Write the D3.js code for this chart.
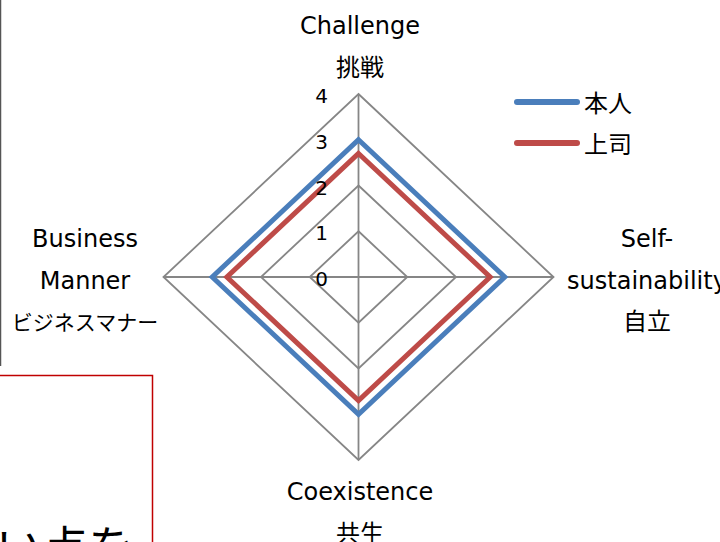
<!DOCTYPE html>
<html>
<head>
<meta charset="utf-8">
<title>radar</title>
<script src="https://d3js.org/d3.v7.min.js"></script>
<style>
  body { margin: 0; background: #fff; }
  svg { display: block; font-family: "DejaVu Sans", "Noto Sans CJK JP", sans-serif; }
</style>
</head>
<body>
<svg id="chart" width="720" height="542"></svg>
<script>
// axes clockwise from the top
const axes = ["Challenge", "Self-sustainability", "Coexistence", "Business Manner"];
const axisLabels = [
  ["Challenge", "挑戦"],
  ["Self-", "sustainability", "自立"],
  ["Coexistence", "共生"],
  ["Business", "Manner", "ビジネスマナー"]
];
const ticks = [0, 1, 2, 3, 4];
const seriesNames = ["本人", "上司"];
const selfScores = [3.0, 3.0, 3.0, 3.0];
const bossScores = [2.7, 2.7, 2.7, 2.7];
const colors = ["#4a7ebb", "#be4b48"];

const svg = d3.select("#chart");
const cx = 358.5, cy = 277;

// the plot is a little wider than tall
const rx = d3.scaleLinear().domain([0, 4]).range([0, 195]);
const ry = d3.scaleLinear().domain([0, 4]).range([0, 183]);
const ang = i => i * 2 * Math.PI / axes.length;

function pt(i, v) {
  return [cx + Math.sin(ang(i)) * rx(v), cy - Math.cos(ang(i)) * ry(v)];
}

// left page bits behind the chart
svg.append("line").attr("x1", 0.5).attr("y1", 0).attr("x2", 0.5).attr("y2", 366)
  .attr("stroke", "#555").attr("stroke-width", 1.5);
svg.append("path").attr("d", "M0,375.5 H152.5 V542")
  .attr("fill", "none").attr("stroke", "#c00000").attr("stroke-width", 1.5);
svg.append("text").attr("x", -4).attr("y", 564)
  .attr("font-size", 46).attr("font-family", "Noto Sans CJK JP")
  .text("い点を");

// grid rings
const line = d3.line();
ticks.filter(t => t > 0).forEach(t => {
  const pts = axes.map((a, i) => pt(i, t));
  svg.append("path").attr("d", line(pts) + "Z")
    .attr("fill", "none").attr("stroke", "#868686").attr("stroke-width", 1.8);
});

// spokes
axes.forEach((a, i) => {
  const p = pt(i, 4);
  svg.append("line").attr("x1", cx).attr("y1", cy).attr("x2", p[0]).attr("y2", p[1])
    .attr("stroke", "#868686").attr("stroke-width", 1.8);
});

// series
[selfScores, bossScores].forEach((vals, s) => {
  const pts = vals.map((v, i) => pt(i, v));
  svg.append("path").attr("d", line(pts) + "Z")
    .attr("fill", "none").attr("stroke", colors[s]).attr("stroke-width", 5)
    .attr("stroke-linejoin", "miter");
});

// tick labels
svg.selectAll(".tick").data(ticks).enter().append("text")
  .attr("x", 328).attr("y", d => cy - ry(d) + 9)
  .attr("text-anchor", "end").attr("font-size", 20).attr("fill", "#000")
  .text(d => d);

// axis labels
const labelPos = [
  { x: 360, y: 34 },
  { x: 647, y: 247 },
  { x: 360, y: 500 },
  { x: 85, y: 247 }
];
axisLabels.forEach((lines, i) => {
  const t = svg.append("text").attr("text-anchor", "middle").attr("font-size", 24).attr("fill", "#000");
  lines.forEach((l, j) => {
    t.append("tspan").attr("x", labelPos[i].x).attr("y", labelPos[i].y + j * 41.5)
      .attr("font-size", /[ァ-ヿ]/.test(l) ? 21 : null)
      .text(l);
  });
});

// legend
const lg = svg.selectAll(".lg").data(seriesNames).enter().append("g")
  .attr("transform", (d, i) => `translate(517,${102 + i * 41})`);
lg.append("line").attr("x1", 0).attr("x2", 60).attr("y1", 0).attr("y2", 0)
  .attr("stroke", (d, i) => colors[i]).attr("stroke-width", 6).attr("stroke-linecap", "round");
lg.append("text").attr("x", 67).attr("y", 10).attr("font-size", 24).text(d => d);
</script>
</body>
</html>
